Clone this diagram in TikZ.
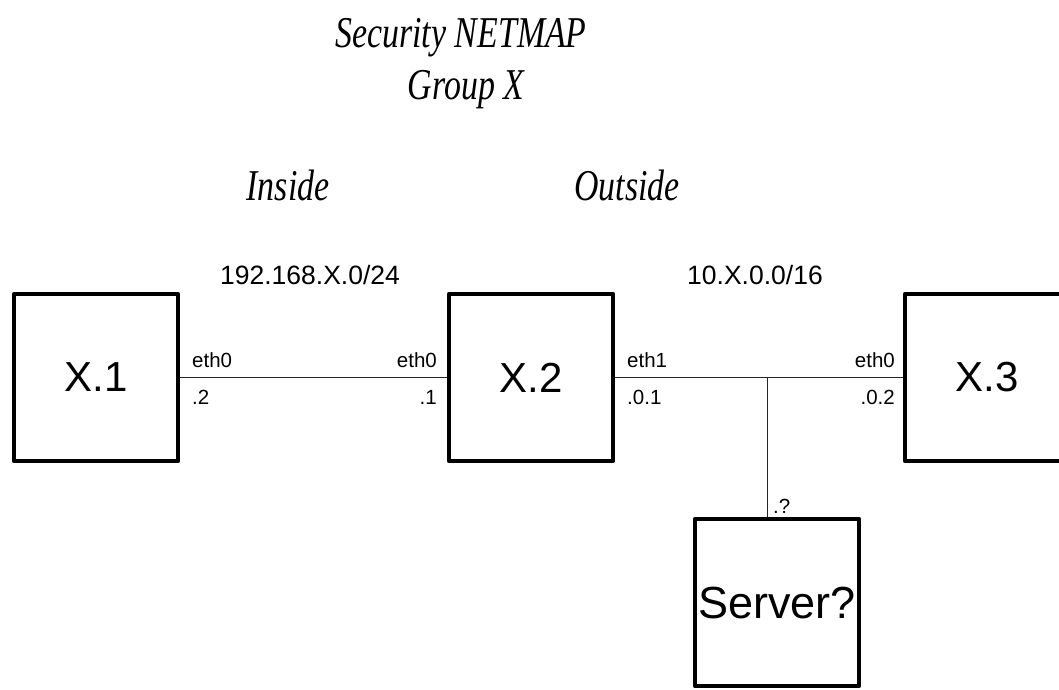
\documentclass[tikz,border=0pt]{standalone}
\usepackage{fontspec}
\setmainfont{Liberation Sans}
\newfontfamily\titlefont{Liberation Serif}
\usepackage{tikz}
\usetikzlibrary{positioning}
\tikzstyle{hostbox}=[draw=black, line width=4.5pt, line join=round, rectangle, minimum width=164pt, minimum height=167pt, inner sep=0pt, font=\fontsize{42}{48}\selectfont]
\tikzstyle{srvbox}=[hostbox, font=\fontsize{45}{52}\selectfont]
\tikzstyle{heading}=[inner sep=0pt, xscale=0.77, font=\titlefont\itshape\fontsize{44}{50}\selectfont]
\tikzstyle{ifname}=[inner sep=0pt, font=\fontsize{20.5}{24}\selectfont]
\tikzstyle{subnet}=[inner sep=0pt, font=\fontsize{26.5}{30}\selectfont]
\tikzstyle{wire}=[black!85, line width=1pt]

\begin{document}
\begin{tikzpicture}[x=1pt, y=-1pt]
              \useasboundingbox (0,0) rectangle (1059,689);
              \node[heading, anchor=base] (title1) at (461,47){Security NETMAP};
              \node[heading, anchor=base] (title2) at (466,99){Group X};
              \node[heading, anchor=base] (inside) at (288,200){Inside};
              \node[heading, anchor=base] (outside) at (627,200){Outside};
              \node[subnet, anchor=base] (net1) at (310,284){192.168.X.0/24};
              \node[subnet, anchor=base] (net2) at (755,284){10.X.0.0/16};
              \node[hostbox] (h1) at (96,377.5){X.1};
              \node[hostbox] (h2) at (531,377.5){X.2};
              \node[hostbox] (h3) at (987,377.5){X.3};
              \node[srvbox] (srv) at (777,602.5){Server?};
              \coordinate (tap) at (767,377.5);
              \node[ifname, anchor=base west] (h1if) at (192,367){eth0};
              \node[ifname, anchor=base west] (h1ip) at (192,404){.2};
              \node[ifname, anchor=base east] (h2ifa) at (437,367){eth0};
              \node[ifname, anchor=base east] (h2ipa) at (437,404){.1};
              \node[ifname, anchor=base west] (h2ifb) at (627,367){eth1};
              \node[ifname, anchor=base west] (h2ipb) at (627,404){.0.1};
              \node[ifname, anchor=base east] (h3if) at (895,367){eth0};
              \node[ifname, anchor=base east] (h3ip) at (895,404){.0.2};
              \node[ifname, anchor=base west] (srvip) at (773,513){.?};
              \draw[wire](h1) -- (h2);
              \draw[wire](h2) -- (h3);
              \draw[wire](tap) -- (tap |- srv.north);
            \end{tikzpicture}
\end{document}
